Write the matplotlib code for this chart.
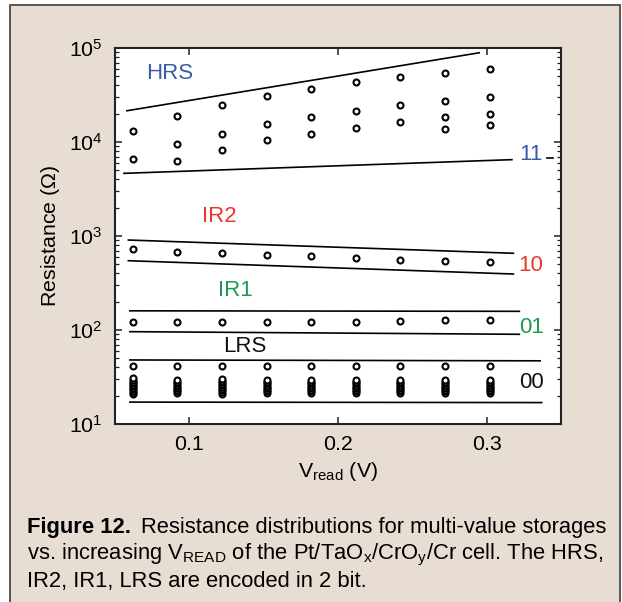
import matplotlib
matplotlib.use("Agg")
import matplotlib.pyplot as plt
from matplotlib.patches import Rectangle
from matplotlib.ticker import LogLocator, FixedLocator

plt.rcParams['font.family'] = ['Liberation Sans', 'DejaVu Sans']
plt.rcParams['mathtext.fontset'] = 'custom'
plt.rcParams['mathtext.rm'] = 'Liberation Sans'
plt.rcParams['mathtext.it'] = 'Liberation Sans:italic'
plt.rcParams['mathtext.bf'] = 'Liberation Sans:bold'

# ---------------- data ----------------
v_read = [0.062, 0.092, 0.122, 0.152, 0.182, 0.212, 0.242, 0.272, 0.302]

hrs_points = [
    [13200, 6600],
    [19000, 9500, 6300],
    [24900, 12300, 8300],
    [31000, 15500, 10500],
    [36500, 18300, 12300],
    [43200, 21400, 14100],
    [48800, 24500, 16200],
    [54700, 27400, 18500, 13900],
    [60000, 30300, 20000, 15100],
]
ir2_points = [728, 681, 655, 632, 613, 588, 560, 546, 525]
ir1_points = [122, 122, 122, 123, 123, 123, 124, 127, 128]
lrs_top_points = [41, 41, 41, 41, 41, 41, 41, 41, 41]
lrs_cluster = [
    [20.8, 21.6, 22.5, 23.4, 24.3, 25.2, 26.2, 27.2, 28.3, 29.4, 30.6],
    [21.3, 22.2, 23.1, 24.0, 25.0, 26.0, 27.0, 28.1, 29.2],
    [21.0, 21.9, 22.8, 23.7, 24.7, 25.7, 26.7, 27.8, 28.9, 30.0],
    [21.3, 22.2, 23.1, 24.0, 25.0, 26.0, 27.0, 28.1, 29.2],
    [21.3, 22.2, 23.1, 24.0, 25.0, 26.0, 27.0, 28.1, 29.2],
    [21.3, 22.2, 23.1, 24.0, 25.0, 26.0, 27.0, 28.1, 29.2],
    [21.3, 22.2, 23.1, 24.0, 25.0, 26.0, 27.0, 28.1, 29.2],
    [21.3, 22.2, 23.1, 24.0, 25.0, 26.0, 27.0, 28.1, 29.2],
    [21.3, 22.2, 23.1, 24.0, 25.0, 26.0, 27.0, 28.1, 29.2],
]

# boundary lines (endpoints)
hrs_upper_x, hrs_upper_y = [0.058, 0.295], [21500, 89000]
hrs_lower_x, hrs_lower_y = [0.056, 0.317], [4640, 6490]
ir2_upper_x, ir2_upper_y = [0.059, 0.318], [906, 655]
ir2_lower_x, ir2_lower_y = [0.059, 0.318], [546, 394]
ir1_upper_x, ir1_upper_y = [0.060, 0.322], [160, 158]
ir1_lower_x, ir1_lower_y = [0.060, 0.322], [96, 90]
lrs_upper_x, lrs_upper_y = [0.060, 0.336], [48, 47]
lrs_lower_x, lrs_lower_y = [0.060, 0.337], [17.1, 16.9]

x_ticks = [0.1, 0.2, 0.3]
x_tick_labels = ['0.1', '0.2', '0.3']

# ---------------- figure ----------------
W, H = 622, 602
fig = plt.figure(figsize=(W / 100, H / 100), dpi=100)
fig.patch.set_facecolor('white')
bg = Rectangle((10 / W, -0.02), 610 / W, 1 - 5 / H + 0.02, transform=fig.transFigure,
               facecolor='#E8DDD3', edgecolor='#4a4a4a', linewidth=1.3, zorder=-10)
fig.patches.append(bg)

ax = fig.add_axes([115 / W, 1 - 424 / H, (561 - 115) / W, (424 - 48) / H])
ax.set_facecolor('white')
ax.set_yscale('log')
ax.set_xlim(0.05, 0.35)
ax.set_ylim(10, 1e5)

mk = dict(marker='o', markersize=4.3, markerfacecolor='white', markeredgecolor='black',
          markeredgewidth=1.5, linestyle='none', zorder=3)

for xv, col in zip(v_read, hrs_points):
    ax.plot([xv] * len(col), col, **mk)
ax.plot(v_read, ir2_points, **mk)
ax.plot(v_read, ir1_points, **mk)
ax.plot(v_read, lrs_top_points, **mk)
for xv, col in zip(v_read, lrs_cluster):
    ax.plot([xv] * len(col), col, **mk)

lk = dict(color='black', linewidth=1.2, zorder=2)
for lx, ly in [(hrs_upper_x, hrs_upper_y), (hrs_lower_x, hrs_lower_y),
               (ir2_upper_x, ir2_upper_y), (ir2_lower_x, ir2_lower_y),
               (ir1_upper_x, ir1_upper_y), (ir1_lower_x, ir1_lower_y),
               (lrs_upper_x, lrs_upper_y), (lrs_lower_x, lrs_lower_y)]:
    ax.plot(lx, ly, **lk)

blue = '#3b5aa8'
red = '#e8382e'
green = '#1f9950'
fs = 16
ax.text(0.123, 0.931, 'HRS', color=blue, fontsize=fs, ha='center', va='center', transform=ax.transAxes)
ax.text(0.233, 0.553, 'IR2', color=red, fontsize=fs, ha='center', va='center', transform=ax.transAxes)
ax.text(0.269, 0.354, 'IR1', color=green, fontsize=fs, ha='center', va='center', transform=ax.transAxes)
ax.text(0.291, 0.207, 'LRS', color='#111111', fontsize=fs, ha='center', va='center', transform=ax.transAxes)
ax.text(0.933, 0.717, '11', color=blue, fontsize=fs, ha='center', va='center', transform=ax.transAxes)
ax.text(0.933, 0.4215, '10', color=red, fontsize=fs, ha='center', va='center', transform=ax.transAxes)
ax.text(0.933, 0.2566, '01', color=green, fontsize=fs, ha='center', va='center', transform=ax.transAxes)
ax.text(0.933, 0.110, '00', color='#111111', fontsize=fs, ha='center', va='center', transform=ax.transAxes)
ax.plot([0.968, 0.982], [0.7066, 0.7066], color='black', linewidth=1.2, transform=ax.transAxes)

for s in ax.spines.values():
    s.set_linewidth(1.5)
    s.set_color('#222222')

ax.xaxis.set_major_locator(FixedLocator(x_ticks))
ax.set_xticklabels(x_tick_labels)
ax.yaxis.set_major_locator(LogLocator(base=10, numticks=10))
ax.yaxis.set_minor_locator(LogLocator(base=10, subs=range(2, 10), numticks=20))
ax.tick_params(which='both', direction='in', top=True, right=True, labelsize=15.4, color='#222222')
ax.tick_params(which='major', length=5, width=1.1)
ax.tick_params(which='minor', length=3, width=0.9)
ax.tick_params(axis='y', pad=9)
ax.tick_params(axis='x', pad=8)

ax.set_xlabel(r'V$_{\mathregular{read}}$ (V)', fontsize=15.4, labelpad=4)
ax.set_ylabel(r'Resistance ($\Omega$)', fontsize=15.4, labelpad=5)

# caption
cfs = 15.8
fig.canvas.draw()
r = fig.canvas.get_renderer()
t1 = fig.text(27 / W, 1 - 528 / H, 'Figure 12.', fontsize=cfs, fontweight='bold', va='center', ha='left')
bb = t1.get_window_extent(r)
fig.text((bb.x1 + 10) / W, 1 - 528 / H, 'Resistance distributions for multi-value storages',
         fontsize=cfs, va='center', ha='left')
fig.text(27 / W, 1 - 555 / H,
         r'vs. increasing V$\mathregular{_{READ}}$ of the Pt/TaO$\mathregular{_x}$/CrO$\mathregular{_y}$/Cr cell. The HRS,',
         fontsize=cfs, va='center', ha='left')
fig.text(27 / W, 1 - 582 / H, 'IR2, IR1, LRS are encoded in 2 bit.', fontsize=cfs, va='center', ha='left')

fig.savefig('out.png', dpi=100, facecolor=fig.get_facecolor())
